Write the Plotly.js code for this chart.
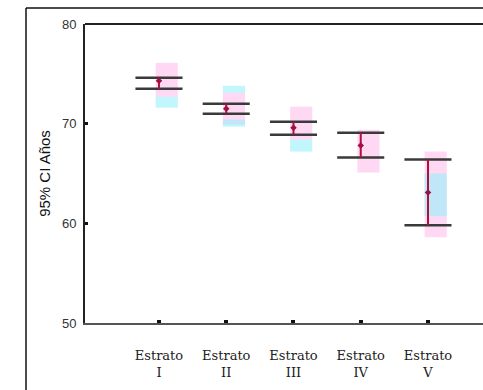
<!DOCTYPE html>
<html><head><meta charset="utf-8">
<script src="https://cdn.plot.ly/plotly-3.0.1.min.js"></script>
<style>html,body{margin:0;padding:0;background:#fff;overflow:hidden}</style>
</head><body><div id="chart" style="width:483px;height:390px"></div>
<script>
const categories = [1, 2, 3, 4, 5];
const tickLabels = ["Estrato<br>I", "Estrato<br>II", "Estrato<br>III", "Estrato<br>IV", "Estrato<br>V"];
const ciUpper = [74.6, 72.0, 70.2, 69.1, 66.4];
const ciLower = [73.5, 71.0, 68.9, 66.6, 59.8];
const means   = [74.3, 71.5, 69.6, 67.8, 63.1];
const pinkHi  = [76.1, 73.1, 71.7, 69.4, 67.2];
const pinkLo  = [72.7, 69.9, 68.4, 65.1, 58.6];
const cyanHi  = [72.7, 73.8, 68.4, null, 65.0];
const cyanLo  = [71.6, 73.1, 67.2, null, 60.7];
const cyan2Hi = [null, 70.4, null, null, null];
const cyan2Lo = [null, 69.7, null, null, null];

const halfLine = 0.35;
const lineX = [], lineY = [];
categories.forEach((c, i) => {
  [ciUpper[i], ciLower[i]].forEach(v => {
    lineX.push(c - halfLine, c + halfLine, null);
    lineY.push(v, v, null);
  });
});
const vX = [], vY = [];
categories.forEach((c, i) => { vX.push(c, c, null); vY.push(ciLower[i], ciUpper[i], null); });

const diff = (a, b) => a.map((v, i) => (v == null ? null : v - b[i]));

const traces = [
  {type: 'bar', x: categories, base: pinkLo, y: diff(pinkHi, pinkLo), width: 0.33, offset: -0.05,
   marker: {color: 'rgba(255,170,230,0.45)', line: {width: 0}}, hoverinfo: 'skip'},
  {type: 'bar', x: categories, base: cyanLo, y: diff(cyanHi, cyanLo), width: 0.33, offset: -0.05,
   marker: {color: 'rgba(150,240,250,0.6)', line: {width: 0}}, hoverinfo: 'skip'},
  {type: 'bar', x: categories, base: cyan2Lo, y: diff(cyan2Hi, cyan2Lo), width: 0.33, offset: -0.05,
   marker: {color: 'rgba(150,240,250,0.6)', line: {width: 0}}, hoverinfo: 'skip'},
  {type: 'scatter', mode: 'lines', x: lineX, y: lineY, line: {color: '#3a3a3a', width: 2.5}, hoverinfo: 'skip'},
  {type: 'scatter', mode: 'lines', x: vX, y: vY, line: {color: '#b0103a', width: 2}, hoverinfo: 'skip'},
  {type: 'scatter', mode: 'markers', x: categories, y: means,
   marker: {color: '#a01040', size: 5, symbol: 'diamond'}, hoverinfo: 'skip'}
];

const plotW = 483 - 85;
const layout = {
  width: 483, height: 390,
  margin: {l: 85, r: 0, t: 24, b: 67},
  paper_bgcolor: '#fff', plot_bgcolor: '#fff',
  showlegend: false, barmode: 'overlay',
  xaxis: {
    range: [-0.1, -0.1 + plotW / 67.25], tickvals: categories, ticktext: tickLabels,
    showgrid: false, zeroline: false,
    showline: true, linecolor: '#555', linewidth: 2, mirror: false,
    ticks: 'inside', ticklen: 3, tickwidth: 4, tickcolor: '#111',
    ticklabelstandoff: 19,
    tickfont: {family: 'DejaVu Serif, serif', size: 13, color: '#222'}
  },
  yaxis: {
    range: [50, 80], tickvals: [50, 60, 70, 80],
    showgrid: false, zeroline: false,
    showline: true, linecolor: '#222', linewidth: 2,
    ticks: 'inside', ticklen: 3, tickwidth: 3, tickcolor: '#111',
    ticklabelstandoff: 4,
    tickfont: {family: 'Liberation Sans, Arial, sans-serif', size: 13, color: '#333'},
    title: {text: '95% CI Años', standoff: 8,
            font: {family: 'Liberation Sans, Arial, sans-serif', size: 15, color: '#111'}}
  },
  shapes: [
    {type: 'line', xref: 'paper', yref: 'paper', x0: 0, x1: 1.01, y0: 1, y1: 1,
     line: {color: '#222', width: 2}},
    {type: 'line', xref: 'paper', yref: 'paper', x0: -59/plotW, x1: 1.01, y0: 1 + 16/299, y1: 1 + 16/299,
     line: {color: '#111', width: 1.5}},
    {type: 'line', xref: 'paper', yref: 'paper', x0: -59/plotW, x1: -59/plotW, y0: 1 + 16/299, y1: -0.3,
     line: {color: '#111', width: 1.5}}
  ]
};

Plotly.newPlot('chart', traces, layout, {staticPlot: true, displayModeBar: false});
</script></body></html>
